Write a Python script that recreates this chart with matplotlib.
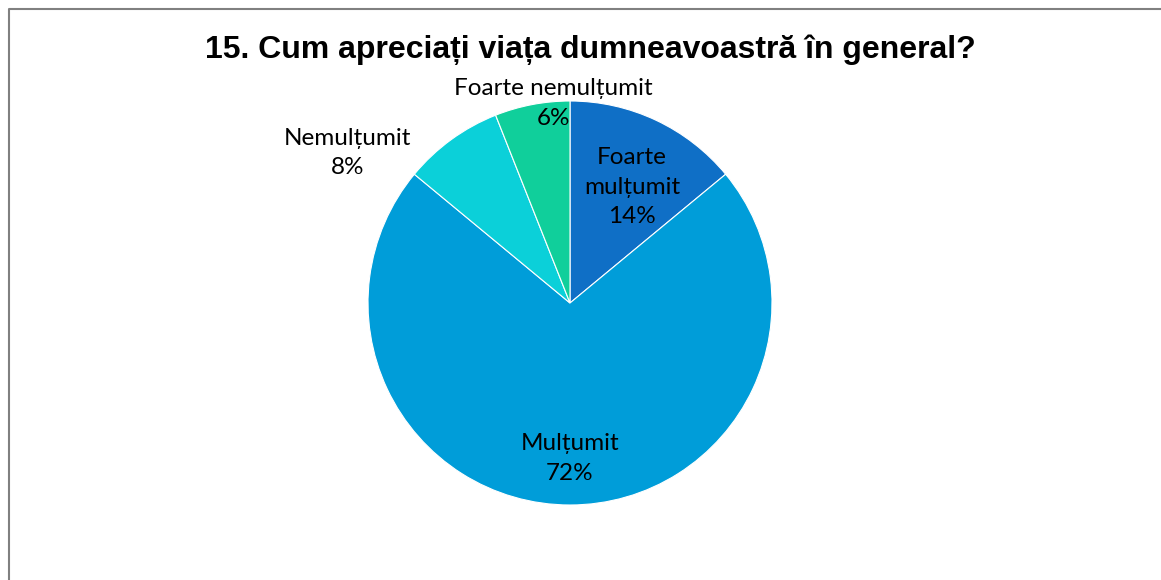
import numpy as np
import matplotlib
matplotlib.use('Agg')
import matplotlib.pyplot as plt
from matplotlib.lines import Line2D

plt.rcParams['font.family'] = ['Lato', 'DejaVu Sans']

labels = ['Foarte\nmulțumit', 'Mulțumit', 'Nemulțumit', 'Foarte nemulțumit']
values = [14, 72, 8, 6]
colors = ['#0F6FC6', '#009DD9', '#0BD0D9', '#10CF9B']
title = '15. Cum apreciați viața dumneavoastră în general?'

# label placement (radius factor, angle nudge in degrees) per slice
label_r = [0.65, 0.77, 1.33, 0.99]
label_nudge = [-3, 0, 20, -6]

W, H = 1161, 580
fig = plt.figure(figsize=(W / 100, H / 100), dpi=100)
cx, cy, R = 570, 303, 202
ax = fig.add_axes([(cx - R) / W, (H - cy - R) / H, 2 * R / W, 2 * R / H])

wedges, _ = ax.pie(values, colors=colors, startangle=90, counterclock=False,
                   radius=1, wedgeprops=dict(edgecolor='white', linewidth=0.8))
ax.set_xlim(-1, 1)
ax.set_ylim(-1, 1)
ax.set_aspect('equal')
ax.axis('off')

for w, lab, v, r, dn in zip(wedges, labels, values, label_r, label_nudge):
    ang = np.deg2rad((w.theta1 + w.theta2) / 2 + dn)
    ax.text(r * np.cos(ang), r * np.sin(ang), f'{lab}\n{v}%',
            ha='center', va='center', fontsize=17.5, color='#000000',
            linespacing=1.5, clip_on=False)

fig.text(590 / W, 1 - 50 / H, title, ha='center', va='center',
         fontsize=23, fontweight='bold', family=['Liberation Sans', 'DejaVu Sans'])

# chart frame (left and top edges visible)
fig.add_artist(Line2D([9 / W, 9 / W, 1], [0, 1 - 9 / H, 1 - 9 / H],
                      transform=fig.transFigure, color='#808080', linewidth=1.5))

fig.savefig('out.png', dpi=100)
